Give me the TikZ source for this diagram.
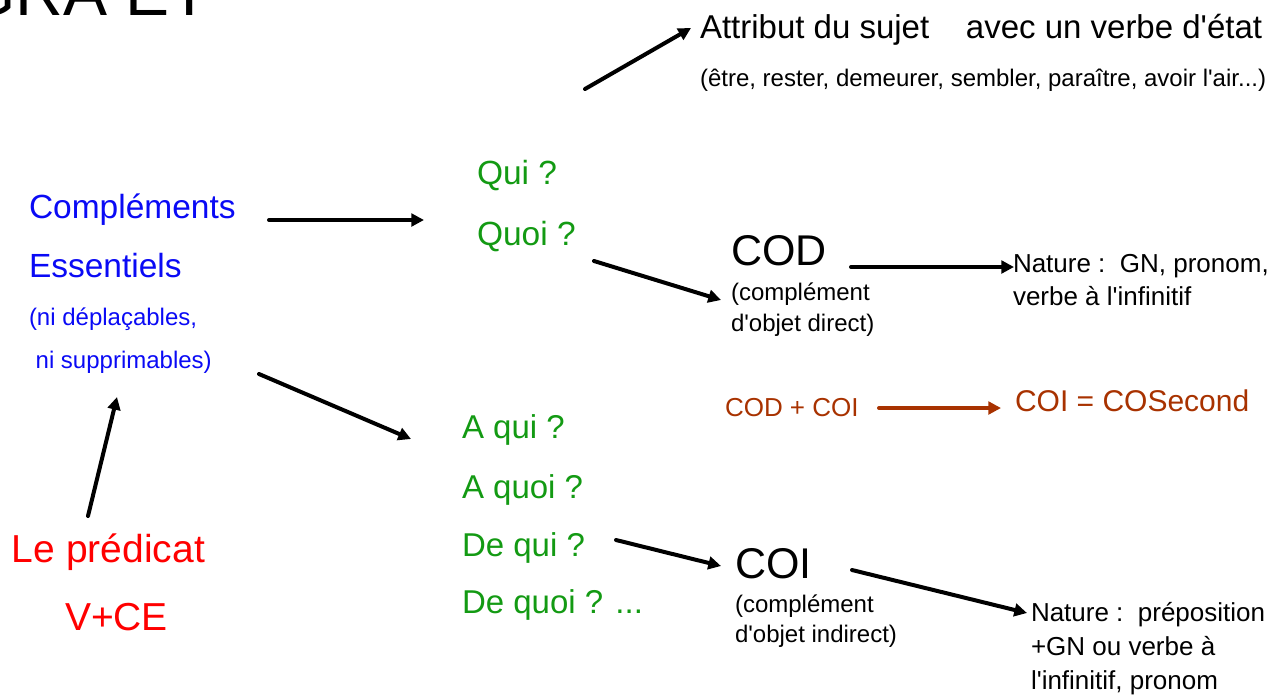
\documentclass[tikz,border=0pt]{standalone}
\usepackage{fontspec}
\setmainfont{Liberation Sans}
\usetikzlibrary{arrows.meta}
\definecolor{cblue}{HTML}{0A0AF5}
\definecolor{cgreen}{HTML}{139A13}
\definecolor{cred}{HTML}{FF0000}
\definecolor{cbrown}{HTML}{A83200}
\newcommand{\fpx}[1]{\fontsize{\fpeval{#1*0.75}pt}{\fpeval{#1*0.9}pt}\selectfont}
\newcommand{\aq}{\textquotesingle}
\begin{document}
\begin{tikzpicture}[x=0.75pt,y=-0.75pt,
  txt/.style={anchor=base west,inner sep=0pt,outer sep=0pt},
  arr/.style={line width=3pt,line cap=round,-{Triangle[length=9.5pt,width=9.5pt]}},
  barr/.style={arr,draw=cbrown}]
\useasboundingbox (0,0) rectangle (1285,697);
% title fragment
\node[txt] (title) at (-36,15) {\fpx{66}GRA ET};
% top
\node[txt] (attr) at (700,38) {\fpx{33}Attribut du sujet\ \ \ \ avec un verbe d\aq état};
\node[txt] (etre) at (700,86) {\fpx{24}(être, rester, demeurer, sembler, paraître, avoir l\aq air...)};
% left
\node[txt,text=cblue] (compl) at (29,218) {\fpx{33.5}Compléments};
\node[txt,text=cblue] (ess) at (29,277) {\fpx{33.5}Essentiels};
\node[txt,text=cblue] (nidep) at (29,325) {\fpx{24}(ni déplaçables,};
\node[txt,text=cblue] (nisup) at (29,368) {\fpx{24}\ ni supprimables)};
\node[txt,text=cred] (pred) at (12,562) {\fpx{39}Le prédicat};
\node[txt,text=cred] (vce) at (65,630) {\fpx{39}V+CE};
% green questions
\node[txt,text=cgreen] (qui) at (477,184) {\fpx{33.5}Qui ?};
\node[txt,text=cgreen] (quoi) at (477,245) {\fpx{33.5}Quoi ?};
\node[txt,text=cgreen] (aqui) at (462,438) {\fpx{33}A qui ?};
\node[txt,text=cgreen] (aquoi) at (462,498) {\fpx{33}A quoi ?};
\node[txt,text=cgreen] (dequi) at (462,556) {\fpx{33}De qui ?};
\node[txt,text=cgreen] (dequoi) at (462,613) {\fpx{33}De quoi ? ...};
% COD
\node[txt] (cod) at (731,265) {\fpx{43}COD};
\node[txt] (codc1) at (731,300) {\fpx{24}(complément};
\node[txt] (codc2) at (731,331) {\fpx{24}d\aq objet direct)};
\node[txt] (nat1a) at (1013,272) {\fpx{26}Nature :\ \ GN, pronom,};
\node[txt] (nat1b) at (1013,305) {\fpx{26}verbe à l\aq infinitif};
% COD + COI
\node[txt,text=cbrown] (codcoi) at (725,416) {\fpx{26}COD + COI};
\node[txt,text=cbrown] (cosec) at (1015,411) {\fpx{30}COI = COSecond};
% COI
\node[txt] (coi) at (735,578) {\fpx{43}COI};
\node[txt] (coic1) at (735,612) {\fpx{24}(complément};
\node[txt] (coic2) at (735,642) {\fpx{24}d\aq objet indirect)};
\node[txt] (nat2a) at (1031,621) {\fpx{26}Nature :\ \ préposition};
\node[txt] (nat2b) at (1031,655) {\fpx{26}+GN ou verbe à};
\node[txt] (nat2c) at (1031,689) {\fpx{26}l\aq infinitif, pronom};
% arrow end points
\coordinate (a1s) at (585,89);  \coordinate (a1e) at (691,28);
\coordinate (a2s) at (269,220); \coordinate (a2e) at (424,220);
\coordinate (a3s) at (259,374); \coordinate (a3e) at (411,439);
\coordinate (a4s) at (88,516);  \coordinate (a4e) at (117,397);
\coordinate (a5s) at (594,261); \coordinate (a5e) at (721,300);
\coordinate (a6s) at (851,267); \coordinate (a6e) at (1014,267);
\coordinate (a7s) at (879,408); \coordinate (a7e) at (1001,408);
\coordinate (a8s) at (616,540); \coordinate (a8e) at (721,566);
\coordinate (a9s) at (852,570); \coordinate (a9e) at (1027,613);
\draw[arr] (a1s) -- (a1e);
\draw[arr] (a2s) -- (a2e);
\draw[arr] (a3s) -- (a3e);
\draw[arr] (a4s) -- (a4e);
\draw[arr] (a5s) -- (a5e);
\draw[arr] (a6s) -- (a6e);
\draw[barr] (a7s) -- (a7e);
\draw[arr] (a8s) -- (a8e);
\draw[arr] (a9s) -- (a9e);
\end{tikzpicture}
\end{document}
